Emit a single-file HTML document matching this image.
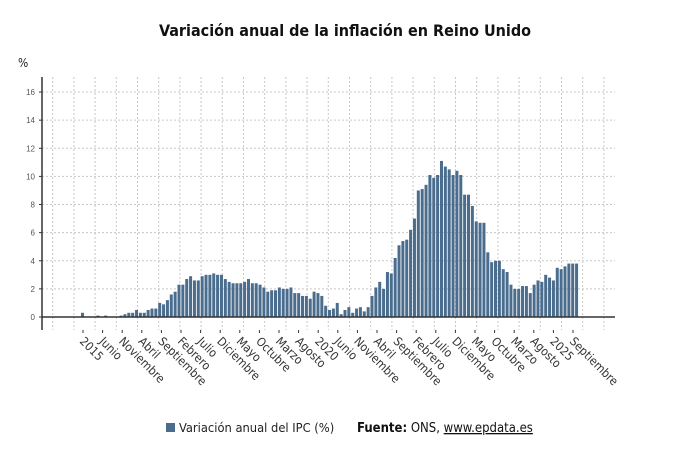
<!DOCTYPE html>
<html><head><meta charset="utf-8"><style>
body{margin:0;background:#fff;width:690px;height:460px;overflow:hidden;font-family:"Liberation Sans","DejaVu Sans",sans-serif}
.c{font-family:"DejaVu Sans Condensed","DejaVu Sans",sans-serif;font-stretch:condensed}
</style></head><body>
<svg width="690" height="460" xmlns="http://www.w3.org/2000/svg" id="chart">
<text class="c" x="345" y="36" text-anchor="middle" font-size="16" font-weight="bold" fill="#111">Variación anual de la inflación en Reino Unido</text>
<text class="c" x="18" y="67" font-size="12" fill="#222">%</text>
<g id="grid"></g><g id="bars"></g><g id="axes"></g>
<g>
<rect x="166" y="423" width="9" height="9" fill="#4a6d8e"/>
<text class="c" x="179" y="432" font-size="12.8" fill="#222">Variación anual del IPC (%)</text>
<text class="c" x="357" y="432" font-size="13" fill="#111"><tspan font-weight="bold">Fuente:</tspan> ONS, <tspan text-decoration="underline">www.epdata.es</tspan></text>
</g>
</svg>
<script>
const values=[
0.3,0.0,0.0,-0.1,0.1,0.0,0.1,0.0,-0.1,-0.1,0.1,0.2,
0.3,0.3,0.5,0.3,0.3,0.5,0.6,0.6,1.0,0.9,1.2,1.6,
1.8,2.3,2.3,2.7,2.9,2.6,2.6,2.9,3.0,3.0,3.1,3.0,
3.0,2.7,2.5,2.4,2.4,2.4,2.5,2.7,2.4,2.4,2.3,2.1,
1.8,1.9,1.9,2.1,2.0,2.0,2.1,1.7,1.7,1.5,1.5,1.3,
1.8,1.7,1.5,0.8,0.5,0.6,1.0,0.2,0.5,0.7,0.3,0.6,
0.7,0.4,0.7,1.5,2.1,2.5,2.0,3.2,3.1,4.2,5.1,5.4,
5.5,6.2,7.0,9.0,9.1,9.4,10.1,9.9,10.1,11.1,10.7,10.5,
10.1,10.4,10.1,8.7,8.7,7.9,6.8,6.7,6.7,4.6,3.9,4.0,
4.0,3.4,3.2,2.3,2.0,2.0,2.2,2.2,1.7,2.3,2.6,2.5,
3.0,2.8,2.6,3.5,3.4,3.6,3.8,3.8,3.8];
const yTicks=[0,2,4,6,8,10,12,14,16];
const xLabels=["2015","Junio","Noviembre","Abril","Septiembre","Febrero","Julio","Diciembre","Mayo","Octubre","Marzo","Agosto","2020","Junio","Noviembre","Abril","Septiembre","Febrero","Julio","Diciembre","Mayo","Octubre","Marzo","Agosto","2025","Septiembre"];
const NS="http://www.w3.org/2000/svg";
const L=42,R=615,TOP=77,BOT=330;
const y=v=>317-v*14.06;
const x=i=>82.5+i*3.86;
function mk(t,a,p){const e=document.createElementNS(NS,t);for(const k in a)e.setAttribute(k,a[k]);p.appendChild(e);return e;}
const grid=document.getElementById('grid'),bars=document.getElementById('bars'),axes=document.getElementById('axes');
for(const t of yTicks){
 if(t>0){const g=mk('line',{x1:L,x2:R,y1:y(t),y2:y(t),stroke:'#c8c8c8','stroke-dasharray':'2,2'},grid);
 
 }
 const tk=mk('line',{x1:L-3,x2:L,y1:y(t),y2:y(t),stroke:'#333'},axes);
 
 
 const tx=mk('text',{x:L-7,y:y(t)+3,'text-anchor':'end','font-size':8,fill:'#555'},axes);
 tx.textContent=t;
 
 
}
for(let gx=52.7;gx<R;gx+=21.2){
 const g=mk('line',{x1:gx,x2:gx,y1:TOP,y2:BOT,stroke:'#c8c8c8','stroke-dasharray':'2,2'},grid);
 
 
}
values.forEach((v,i)=>{
 const h=Math.max(0,v)*14.06;
 const b=mk('rect',{x:x(i)-1.5,y:317-h,width:3,height:h,fill:'#4a6d8e'},bars);
 
 
});
const ya=mk('line',{x1:L,x2:L,y1:TOP,y2:BOT,stroke:'#333','stroke-width':1.5},axes);


const xa=mk('line',{x1:L,x2:R,y1:317,y2:317,stroke:'#333','stroke-width':1.5},axes);


xLabels.forEach((lab,i)=>{
 const tx0=83+i*19.6;
 const tk=mk('line',{x1:tx0,x2:tx0,y1:330,y2:333,stroke:'#333'},axes);
 
 
 const t=mk('text',{x:0,y:0,'font-size':12,fill:'#333',class:'c',transform:`translate(${tx0-4},${342}) rotate(45)`},axes);
 t.textContent=lab;
 
 
});
</script>
</body></html>
